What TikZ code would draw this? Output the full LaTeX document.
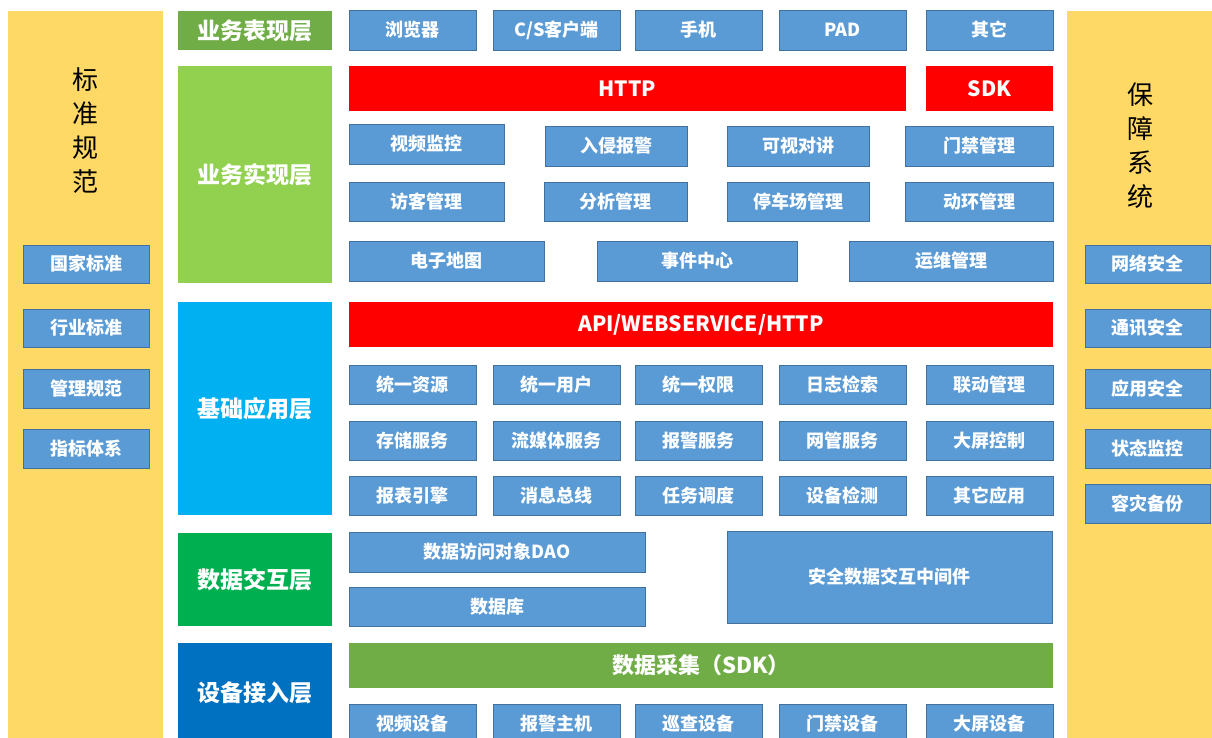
\documentclass[tikz,border=0pt]{standalone}
\usepackage{fontspec}
\usepackage{xcolor}
\newfontfamily\cjk{Noto Sans CJK SC}

\definecolor{sideYellow}{HTML}{FFD966}
\definecolor{boxBlue}{HTML}{5B9BD5}
\definecolor{boxEdge}{HTML}{41719C}
\definecolor{lyrGreen}{HTML}{70AD47}
\definecolor{lyrLime}{HTML}{92D050}
\definecolor{lyrCyan}{HTML}{00B0F0}
\definecolor{lyrEmerald}{HTML}{00B050}
\definecolor{lyrNavy}{HTML}{0070C0}
\definecolor{barRed}{HTML}{FF0000}

\begin{document}
\begin{tikzpicture}[x=1pt,y=-1pt]
%style for the two side columns
\tikzstyle{sidecol} = [rectangle, fill=sideYellow, inner sep=0pt]

%style for the vertical side titles
\tikzstyle{vtext} = [align=center, text=black, font=\cjk\fontsize{26}{34}\selectfont]

%style for layer labels
\tikzstyle{layer} = [rectangle, inner sep=0pt, minimum width=154, text=white, font=\cjk\bfseries\fontsize{23}{28}\selectfont]

%style for blue module boxes
\tikzstyle{bbox} = [rectangle, fill=boxBlue, draw=boxEdge, line width=0.8pt, inner sep=0pt, text=white, font=\cjk\bfseries\fontsize{18}{21}\selectfont]

%style for red protocol bars
\tikzstyle{redbar} = [rectangle, fill=barRed, inner sep=0pt, minimum height=45, text=white, font=\cjk\bfseries\fontsize{21}{24}\selectfont]

\useasboundingbox (0,0) rectangle (1212,738);
\clip (0,0) rectangle (1212,738);

%side columns
\node[sidecol, minimum width=155, minimum height=740] (stdcol) at (85.5,381) {};
\node[vtext] (stdtxt) at (85,131) {标\\准\\规\\范};
\node[sidecol, minimum width=155, minimum height=740] (safecol) at (1144.5,381) {};
\node[vtext] (safetxt) at (1140,146) {保\\障\\系\\统};

% standard boxes on the left
\node[bbox, minimum width=126, minimum height=38] (gjbz) at (86,264) {国家标准};
\node[bbox, minimum width=126, minimum height=38] (hybz) at (86,328) {行业标准};
\node[bbox, minimum width=126, minimum height=39] (glgf) at (86,388.5) {管理规范};
\node[bbox, minimum width=126, minimum height=39] (zbtx) at (86,448.5) {指标体系};

% safety boxes on the right
\node[bbox, minimum width=125, minimum height=38] (wlaq) at (1147.5,264) {网络安全};
\node[bbox, minimum width=125, minimum height=38] (txaq) at (1147.5,328) {通讯安全};
\node[bbox, minimum width=125, minimum height=39] (yyaq) at (1147.5,388.5) {应用安全};
\node[bbox, minimum width=125, minimum height=39] (ztjk) at (1147.5,448.5) {状态监控};
\node[bbox, minimum width=125, minimum height=39] (zbbf) at (1147.5,503.5) {容灾备份};

%layer labels
\node[layer, fill=lyrGreen, minimum height=39] (L1) at (255,30.5) {业务表现层};
\node[layer, fill=lyrLime, minimum height=217] (L2) at (255,174.5) {业务实现层};
\node[layer, fill=lyrCyan, minimum height=213] (L3) at (255,408.5) {基础应用层};
\node[layer, fill=lyrEmerald, minimum height=93] (L4) at (255,579.5) {数据交互层};
\node[layer, fill=lyrNavy, minimum height=100] (L5) at (255,693) {设备接入层};

%presentation layer
\node[bbox, minimum width=127, minimum height=40] (llq) at (412.5,30) {浏览器};
\node[bbox, minimum width=127, minimum height=40] (cskh) at (556.5,30) {C/S客户端};
\node[bbox, minimum width=127, minimum height=40] (sj) at (698.5,30) {手机};
\node[bbox, minimum width=127, minimum height=40] (pad) at (842.5,30) {PAD};
\node[bbox, minimum width=127, minimum height=40] (qt) at (989.5,30) {其它};

%business layer
\node[redbar, minimum width=557] (http) at (627.5,88.5) {HTTP};
\node[redbar, minimum width=127] (sdk) at (989.5,88.5) {SDK};

\node[bbox, minimum width=155, minimum height=40] (spjk) at (426.5,144) {视频监控};
\node[bbox, minimum width=142, minimum height=40] (rqbj) at (616,146) {入侵报警};
\node[bbox, minimum width=142, minimum height=40] (ksdj) at (798,146) {可视对讲};
\node[bbox, minimum width=148, minimum height=40] (mjgl) at (979,146) {门禁管理};

\node[bbox, minimum width=155, minimum height=39] (fkgl) at (426.5,201.5) {访客管理};
\node[bbox, minimum width=143, minimum height=39] (fxgl) at (615.5,201.5) {分析管理};
\node[bbox, minimum width=142, minimum height=39] (tccgl) at (798,201.5) {停车场管理};
\node[bbox, minimum width=148, minimum height=39] (dhgl) at (979,201.5) {动环管理};

\node[bbox, minimum width=195, minimum height=40] (dzdt) at (446.5,261) {电子地图};
\node[bbox, minimum width=200, minimum height=40] (sjzx) at (697,261) {事件中心};
\node[bbox, minimum width=204, minimum height=40] (ywgl) at (951,261) {运维管理};

%basic application layer
\node[redbar, minimum width=704] (api) at (701,324.5) {API/WEBSERVICE/HTTP};

\node[bbox, minimum width=127, minimum height=39] (tyzy) at (412.5,384.5) {统一资源};
\node[bbox, minimum width=127, minimum height=39] (tyyh) at (556.5,384.5) {统一用户};
\node[bbox, minimum width=127, minimum height=39] (tyqx) at (698.5,384.5) {统一权限};
\node[bbox, minimum width=127, minimum height=39] (rzjs) at (842.5,384.5) {日志检索};
\node[bbox, minimum width=127, minimum height=39] (ldgl) at (989.5,384.5) {联动管理};

\node[bbox, minimum width=127, minimum height=39] (ccfw) at (412.5,440.5) {存储服务};
\node[bbox, minimum width=127, minimum height=39] (lmtfw) at (556.5,440.5) {流媒体服务};
\node[bbox, minimum width=127, minimum height=39] (bjfw) at (698.5,440.5) {报警服务};
\node[bbox, minimum width=127, minimum height=39] (wgfw) at (842.5,440.5) {网管服务};
\node[bbox, minimum width=127, minimum height=39] (dpkz) at (989.5,440.5) {大屏控制};

\node[bbox, minimum width=127, minimum height=39] (bbyq) at (412.5,495.5) {报表引擎};
\node[bbox, minimum width=127, minimum height=39] (xxzx) at (556.5,495.5) {消息总线};
\node[bbox, minimum width=127, minimum height=39] (rwdd) at (698.5,495.5) {任务调度};
\node[bbox, minimum width=127, minimum height=39] (sbjc) at (842.5,495.5) {设备检测};
\node[bbox, minimum width=127, minimum height=39] (qtyy) at (989.5,495.5) {其它应用};

%data exchange layer
\node[bbox, minimum width=296, minimum height=40] (dao) at (497,552) {数据访问对象DAO};
\node[bbox, minimum width=296, minimum height=39] (sjk) at (497,606.5) {数据库};
\node[bbox, minimum width=325, minimum height=92] (aqzj) at (889.5,577) {安全数据交互中间件};

%device access layer
\node[redbar, fill=lyrGreen, minimum width=704, font=\cjk\bfseries\fontsize{22}{26}\selectfont] (sjcj) at (701,665.5) {数据采集（SDK）};

\node[bbox, minimum width=127, minimum height=40] (spsb) at (412.5,724) {视频设备};
\node[bbox, minimum width=127, minimum height=40] (bjzj) at (556.5,724) {报警主机};
\node[bbox, minimum width=127, minimum height=40] (xcsb) at (698.5,724) {巡查设备};
\node[bbox, minimum width=127, minimum height=40] (mjsb) at (842.5,724) {门禁设备};
\node[bbox, minimum width=127, minimum height=40] (dpsb) at (989.5,724) {大屏设备};
\end{tikzpicture}
\end{document}
